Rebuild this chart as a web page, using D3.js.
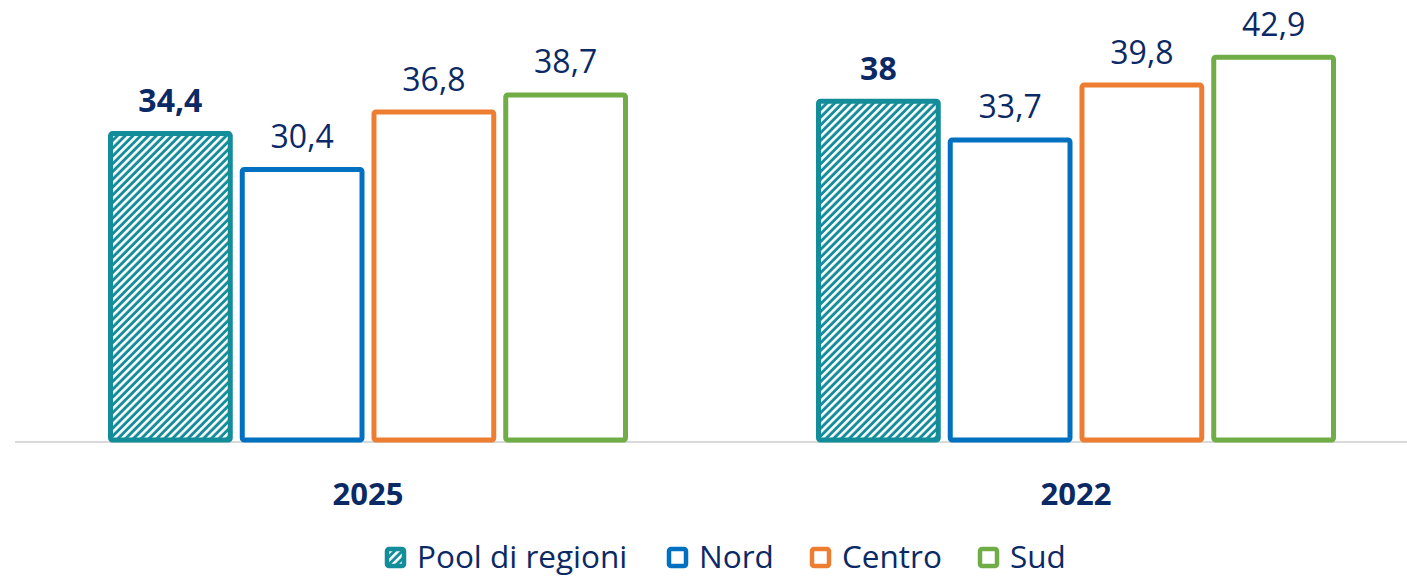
<!DOCTYPE html>
<html>
  <head>
    <meta charset="utf-8">
    <title>Pool di regioni</title>
    <script src="https://cdn.jsdelivr.net/npm/d3@7"></script>
    <style>
      body { margin: 0; background: #fff; }
      svg { display: block; font-family: "Open Sans", sans-serif; }
      .value { fill: #0b2965; font-size: 32px; text-anchor: middle; }
      .value.bold { font-weight: bold; }
      .year { fill: #0b2965; font-size: 31px; font-weight: bold; text-anchor: middle; }
      .legendText { fill: #0b2965; font-size: 31.5px; }
    </style>
  </head>
  <body>
    <svg id="chart" width="1407" height="577">
      <defs>
        <pattern id="hatch" patternUnits="userSpaceOnUse" width="5.5" height="5.5" patternTransform="rotate(45)">
          <rect width="5.5" height="5.5" fill="#138d99"></rect>
          <rect width="2.6" height="5.5" fill="#fff"></rect>
        </pattern>
      </defs>
    </svg>

    <script>
      // data
      years = ["2025", "2022"];
      series = ["Pool di regioni", "Nord", "Centro", "Sud"];
      pool = [34.4, 38];
      nord = [30.4, 33.7];
      centro = [36.8, 39.8];
      sud = [38.7, 42.9];
      colours = ["#138d99", "#0070c0", "#ed7d31", "#70ad47"];

      rows = years.map(function(y, i) {
        return { year: y, values: [pool[i], nord[i], centro[i], sud[i]] };
      });

      svg = d3.select("#chart");
      stroke = 5;

      // scales
      x0 = d3.scaleBand()
        .domain(years)
        .range([14, 1430]);
      x1 = d3.scaleBand()
        .domain(series)
        .range([96.5, 611.5])
        .paddingInner(0.091);
      y = d3.scaleLinear()
        .domain([0, 49])
        .range([440, 0]);
      colour = d3.scaleOrdinal()
        .domain(series)
        .range(colours);
      fmt = function(v) { return String(v).replace(".", ","); };

      // axis line
      svg.append("line")
        .attr("x1", 15)
        .attr("x2", 1407)
        .attr("y1", y(0) + 2)
        .attr("y2", y(0) + 2)
        .attr("stroke", "#d9d9d9")
        .attr("stroke-width", 2);

      groups = svg.selectAll(".group")
        .data(rows)
      .enter().append("g")
        .attr("class", "group")
        .attr("transform", function(d) { return "translate(" + x0(d.year) + ",0)"; });

      groups.selectAll(".bar")
        .data(function(d) {
          return d.values.map(function(v, i) { return { key: series[i], value: v }; });
        })
      .enter().append("rect")
        .attr("class", "bar")
        .attr("x", function(d) { return x1(d.key); })
        .attr("width", x1.bandwidth())
        .attr("y", function(d) { return y(d.value) + stroke / 2; })
        .attr("height", function(d) { return y(0) - y(d.value) - stroke / 2; })
        .attr("rx", 2)
        .attr("fill", function(d) { return d.key == series[0] ? "url(#hatch)" : "#fff"; })
        .attr("stroke", function(d) { return colour(d.key); })
        .attr("stroke-width", stroke);

      groups.selectAll(".value")
        .data(function(d) {
          return d.values.map(function(v, i) { return { key: series[i], value: v }; });
        })
      .enter().append("text")
        .attr("class", function(d) { return d.key == series[0] ? "value bold" : "value"; })
        .attr("x", function(d) { return x1(d.key) + x1.bandwidth() / 2; })
        .attr("y", function(d) { return y(d.value) - 19; })
        .text(function(d) { return fmt(d.value); });

      groups.append("text")
        .attr("class", "year")
        .attr("x", x0.bandwidth() / 2)
        .attr("y", 505)
        .text(function(d) { return d.year; });

      // legend
      legendX = [385, 667, 810, 978];
      legend = svg.selectAll(".key")
        .data(series)
      .enter().append("g")
        .attr("class", "key")
        .attr("transform", function(d, i) { return "translate(" + legendX[i] + ",547)"; });
      legend.append("rect")
        .attr("x", 2)
        .attr("y", 2)
        .attr("width", 17)
        .attr("height", 17)
        .attr("rx", 2)
        .attr("fill", function(d, i) { return i == 0 ? "url(#hatch)" : "#fff"; })
        .attr("stroke", function(d) { return colour(d); })
        .attr("stroke-width", 4.5);
      legend.append("text")
        .attr("class", "legendText")
        .attr("x", 32)
        .attr("y", 21)
        .text(function(d) { return d; });
    </script>
  </body>
</html>
